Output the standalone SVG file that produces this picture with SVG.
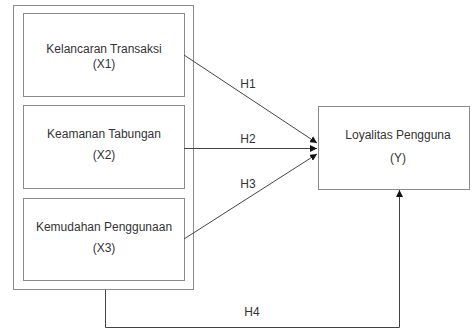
<svg xmlns="http://www.w3.org/2000/svg" width="473" height="329" viewBox="0 0 473 329">
<style>
.box{fill:#fff;stroke:#8a8a8a;stroke-width:1}
.t{font-family:"Liberation Sans",Arial,sans-serif;font-size:12px;fill:#333;text-anchor:middle}
.c{stroke:#444;stroke-width:1;fill:none}
</style>
<defs>
<marker id="ah" viewBox="0 0 10 10" refX="10" refY="5" markerWidth="7" markerHeight="7" orient="auto" markerUnits="userSpaceOnUse">
<path d="M0,0 L10,5 L0,10 z" fill="#111"/>
</marker>
</defs>
<rect width="473" height="329" fill="#fff"/>
<g id="group-x">
<rect class="box" x="13.5" y="5.5" width="180" height="284"/>
</g>
<g id="x1">
<rect class="box" x="23.5" y="13.5" width="161" height="83"/>
<text class="t" x="104" y="52.5">Kelancaran Transaksi</text>
<text class="t" x="104" y="67.5">(X1)</text>
</g>
<g id="x2">
<rect class="box" x="23.5" y="105.5" width="161" height="83"/>
<text class="t" x="104" y="137.5">Keamanan Tabungan</text>
<text class="t" x="104" y="158.5">(X2)</text>
</g>
<g id="x3">
<rect class="box" x="23.5" y="198.5" width="161" height="82"/>
<text class="t" x="104" y="230.5">Kemudahan Penggunaan</text>
<text class="t" x="104" y="251.5">(X3)</text>
</g>
<g id="y">
<rect class="box" x="318.5" y="106.5" width="151" height="83"/>
<text class="t" x="398" y="138.5">Loyalitas Pengguna</text>
<text class="t" x="398" y="161.5">(Y)</text>
</g>
<g id="connectors">
<line class="c" x1="184" y1="55" x2="317" y2="143" marker-end="url(#ah)"/>
<line class="c" x1="184" y1="148.5" x2="317" y2="148.5" marker-end="url(#ah)"/>
<line class="c" x1="184" y1="239" x2="317" y2="154" marker-end="url(#ah)"/>
<polyline class="c" points="105.5,290 105.5,327.5 399.5,327.5 399.5,190" marker-end="url(#ah)"/>
<text class="t" x="248" y="87.5">H1</text>
<text class="t" x="248" y="142.5">H2</text>
<text class="t" x="248" y="187.5">H3</text>
<text class="t" x="252" y="315.5">H4</text>
</g>
</svg>
